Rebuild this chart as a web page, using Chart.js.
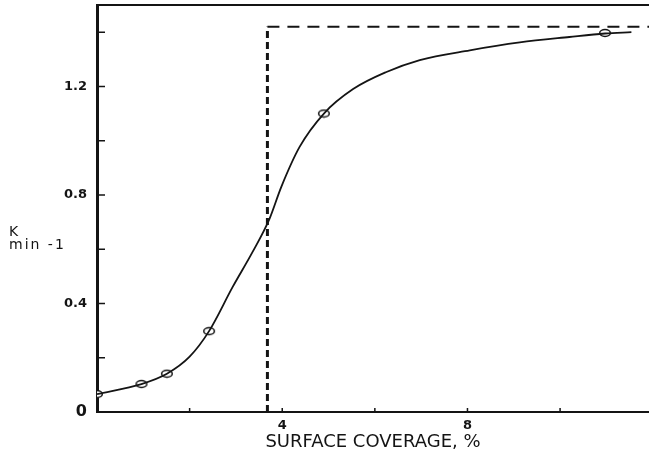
<!DOCTYPE html>
<html>
<head>
<meta charset="utf-8">
<script src="https://cdn.jsdelivr.net/npm/chart.js@4"></script>
<style>
  html, body { margin: 0; padding: 0; background: #fff; }
  canvas { display: block; }
</style>
</head>
<body>
<canvas id="chart" width="649" height="455"></canvas>
<script>
"use strict";

// smooth fitted curve
var curveX = [0, 0.96, 1.51, 2.0, 2.42, 2.93, 3.36, 3.72, 3.98, 4.375, 4.9, 5.53, 6.25, 6.97, 8.05, 9.13, 10.2, 10.97, 11.54];
var curveY = [0.066, 0.103, 0.141, 0.204, 0.298, 0.461, 0.59, 0.71, 0.83, 0.977, 1.10, 1.19, 1.253, 1.297, 1.333, 1.362, 1.382, 1.395, 1.40];

// measured points (open markers)
var pointX = [0, 0.96, 1.51, 2.42, 4.9, 10.97];
var pointY = [0.066, 0.103, 0.141, 0.298, 1.10, 1.397];

// dashed step
var stepX = [3.68, 3.68, 11.92];
var stepY = [0, 1.42, 1.42];

var xTickLabels = [4, 8];
var yTickLabels = [0, 0.4, 0.8, 1.2];

var ink = "#141414";

function toXY(xs, ys) {
  return xs.map(function(x, i) { return { x: x, y: ys[i] }; });
}

function round1(v) {
  return Math.round(v * 10) / 10;
}

// open ellipse marker
var marker = document.createElement("canvas");
marker.width = 14;
marker.height = 10;
(function() {
  var c = marker.getContext("2d");
  c.beginPath();
  c.ellipse(7, 5, 5.3, 3.4, 0, 0, Math.PI * 2);
  c.fillStyle = "#fff";
  c.fill();
  c.lineWidth = 1.5;
  c.strokeStyle = ink;
  c.stroke();
})();

var framePlugin = {
  id: "frame",
  afterDraw: function(chart) {
    var ctx = chart.ctx;
    var area = chart.chartArea;
    var xs = chart.scales.x;
    var ys = chart.scales.y;
    ctx.save();
    ctx.strokeStyle = ink;
    // top frame line
    ctx.lineWidth = 2;
    ctx.beginPath();
    ctx.moveTo(area.left, area.top);
    ctx.lineTo(area.right, area.top);
    ctx.stroke();
    // inward tick marks
    ctx.lineWidth = 1.5;
    ctx.beginPath();
    ys.ticks.forEach(function(t) {
      if (t.value <= 0) return;
      var py = ys.getPixelForValue(t.value);
      ctx.moveTo(area.left, py);
      ctx.lineTo(area.left + 8, py);
    });
    xs.ticks.forEach(function(t) {
      if (t.value <= 0) return;
      var px = xs.getPixelForValue(t.value);
      ctx.moveTo(px, area.bottom);
      ctx.lineTo(px, area.bottom - 4);
    });
    ctx.stroke();
    // y axis caption, two lines
    ctx.fillStyle = ink;
    ctx.font = '14px "DejaVu Sans"';
    ctx.letterSpacing = "2px";
    ctx.textAlign = "left";
    ctx.textBaseline = "alphabetic";
    var base = ys.getPixelForValue(0.65);
    ctx.fillText("K", 9, base);
    ctx.fillText("min -1", 9, base + 13);
    ctx.restore();
  }
};

new Chart(document.getElementById("chart"), {
  type: "scatter",
  plugins: [framePlugin],
  data: {
    datasets: [
      {
        data: toXY(curveX, curveY),
        showLine: true,
        borderColor: ink,
        borderWidth: 1.8,
        pointRadius: 0,
        cubicInterpolationMode: "monotone"
      },
      {
        data: toXY([stepX[0], stepX[1]], [stepY[0], stepY[1]]),
        showLine: true,
        borderColor: ink,
        borderWidth: 3,
        borderDash: [7, 4],
        pointRadius: 0
      },
      {
        data: toXY([stepX[1], stepX[2]], [stepY[1], stepY[2]]),
        showLine: true,
        borderColor: ink,
        borderWidth: 2,
        borderDash: [12, 8],
        pointRadius: 0
      },
      {
        data: toXY(pointX, pointY),
        showLine: false,
        pointStyle: marker,
        pointRadius: 5
      }
    ]
  },
  options: {
    responsive: false,
    animation: false,
    layout: { autoPadding: false, padding: { top: 5, right: 0, bottom: 0, left: 0 } },
    plugins: {
      legend: { display: false },
      tooltip: { enabled: false }
    },
    scales: {
      x: {
        type: "linear",
        min: 0,
        max: 11.92,
        afterFit: function(scale) {
          scale.height = 43;
          scale.paddingLeft = 0;
          scale.paddingRight = 0;
        },
        grid: { display: false, drawTicks: false },
        border: { display: true, color: ink, width: 2 },
        ticks: {
          stepSize: 2,
          includeBounds: false,
          autoSkip: false,
          maxRotation: 0,
          padding: 6,
          color: ink,
          font: { family: "DejaVu Sans", weight: "bold", size: 13 },
          callback: function(value) {
            return xTickLabels.indexOf(round1(value)) >= 0 ? String(round1(value)) : "";
          }
        },
        title: {
          display: true,
          text: "SURFACE COVERAGE, %",
          color: ink,
          font: { family: "DejaVu Sans", size: 18 },
          padding: { top: 0, bottom: 2 }
        }
      },
      y: {
        type: "linear",
        min: 0,
        max: 1.5,
        afterFit: function(scale) {
          scale.width = 97;
          scale.paddingTop = 0;
          scale.paddingBottom = 0;
        },
        grid: { display: false, drawTicks: false },
        border: { display: true, color: ink, width: 3 },
        ticks: {
          stepSize: 0.2,
          includeBounds: false,
          autoSkip: false,
          padding: 10,
          color: ink,
          font: function(ctx) {
            var zero = ctx.tick && ctx.tick.value === 0;
            return { family: "DejaVu Sans", weight: "bold", size: zero ? 16 : 13 };
          },
          callback: function(value) {
            var v = round1(value);
            return yTickLabels.indexOf(v) >= 0 ? v.toFixed(v === 0 ? 0 : 1) : "";
          }
        }
      }
    }
  }
});
</script>
</body>
</html>
